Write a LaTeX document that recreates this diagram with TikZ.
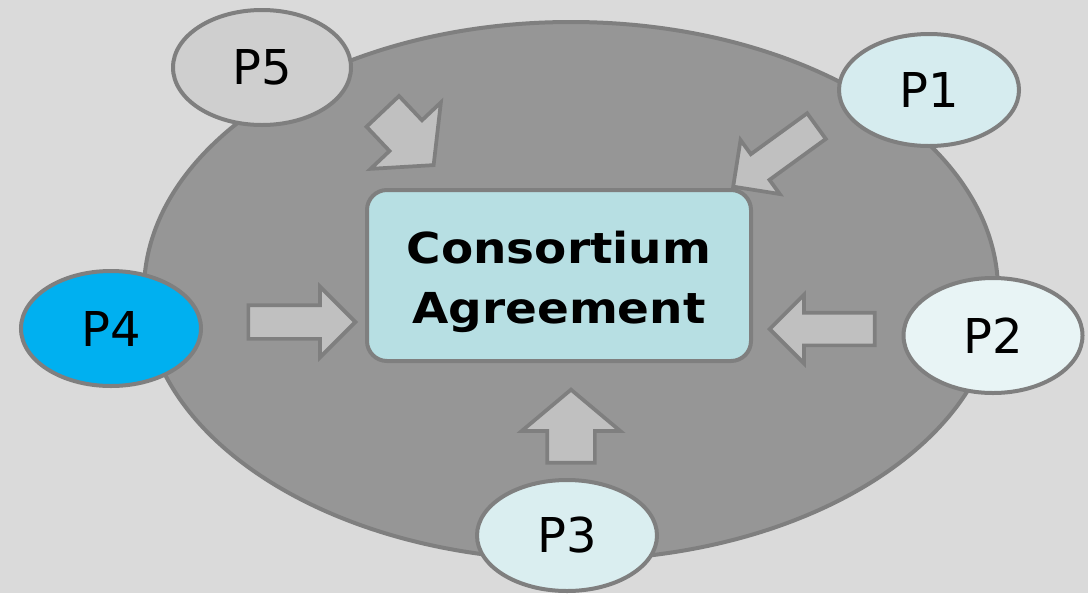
\documentclass[tikz,border=0pt]{standalone}
\usepackage{fontspec}
\setmainfont{DejaVu Sans}
\newfontfamily\boxfont[FakeStretch=1.1]{DejaVu Sans}
\usetikzlibrary{shapes.geometric,shapes.arrows}
\definecolor{bg}{HTML}{DADADA}
\definecolor{bigfill}{HTML}{969696}
\definecolor{edge}{HTML}{7F7F7F}
\definecolor{boxfill}{HTML}{B7DFE3}
\definecolor{arrowfill}{HTML}{C0C0C0}
\definecolor{pfive}{HTML}{CFCFCF}
\definecolor{pone}{HTML}{D6ECEF}
\definecolor{ptwo}{HTML}{E8F4F5}
\definecolor{pthree}{HTML}{DAEEF0}
\definecolor{pfour}{HTML}{00B0F0}
\def\pxu{0.75pt}
\begin{document}
\begin{tikzpicture}[x=0.75pt,y=-0.75pt,
  partner/.style={ellipse, draw=edge, line width=3pt, inner sep=0pt,
    minimum width=180*\pxu, minimum height=115*\pxu,
    font=\fontsize{36}{40}\selectfont},
  blockarrow/.style={single arrow, draw=edge, fill=arrowfill, line width=2.8pt,
    inner xsep=0pt, minimum width=0pt, single arrow head indent=0pt, anchor=tail}]
\fill[bg] (0,0) rectangle (1088,593);
\useasboundingbox (0,0) rectangle (1088,593);

\node[ellipse, draw=edge, fill=bigfill, line width=3pt, inner sep=0pt,
  minimum width=854*\pxu, minimum height=538*\pxu] (group) at (571,291) {};

\node[rectangle, rounded corners=15pt, draw=edge, fill=boxfill, line width=3pt,
  minimum width=384*\pxu, minimum height=171*\pxu] (box) at (559,275.5) {};
\node[font=\boxfont\bfseries\fontsize{32}{45}\selectfont, align=center, inner sep=0pt]
  (boxtext) at (559,282) {Consortium\\Agreement};

\node[blockarrow, rotate=0, minimum height=107*\pxu, inner ysep=15*\pxu,
  single arrow head extend=18.5*\pxu] (a4) at (246.5,322) {};
\node[blockarrow, rotate=180, minimum height=105*\pxu, inner ysep=14.5*\pxu,
  single arrow head extend=18*\pxu] (a2) at (876.5,329) {};
\node[blockarrow, rotate=90, minimum height=73*\pxu, inner ysep=22*\pxu,
  single arrow head extend=25.5*\pxu, single arrow tip angle=100] (a3) at (571,464.5) {};
\node[blockarrow, rotate=-46.6, minimum height=74*\pxu, inner ysep=20.5*\pxu,
  single arrow head extend=26*\pxu, single arrow tip angle=100] (a5) at (381.5,110) {};
\node[blockarrow, rotate=216, minimum height=103*\pxu, inner ysep=14*\pxu,
  single arrow head extend=17.5*\pxu] (a1) at (818,125) {};

\node[partner, fill=pfive, minimum width=178*\pxu] (p5) at (262,67.5) {P5};
\node[partner, fill=pone, minimum height=112*\pxu] (p1) at (929,90) {P1};
\node[partner, fill=pfour] (p4) at (111,328.5) {P4};
\node[partner, fill=ptwo, minimum width=179*\pxu] (p2) at (993,335.5) {P2};
\node[partner, fill=pthree, minimum height=111*\pxu] (p3) at (567,535.5) {P3};
\end{tikzpicture}
\end{document}
